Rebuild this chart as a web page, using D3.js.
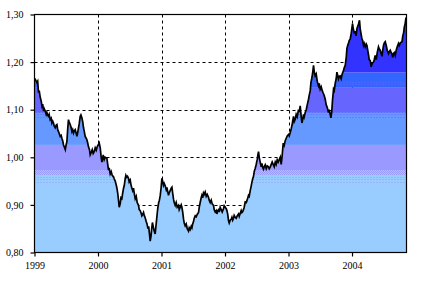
<!DOCTYPE html>
<html><head><meta charset="utf-8">
<script src="https://cdn.jsdelivr.net/npm/d3@7"></script>
<style>body{margin:0;background:#fff}svg{display:block}text{font-family:"Liberation Serif","Times New Roman",serif;font-size:10px;fill:#000}</style>
</head><body><svg id="c" width="422" height="283"></svg>
<script>
// EUR/USD daily reference rate, 1999 – Nov 2004
const dates = [
1999.000,1999.011,1999.038,1999.050,1999.063,1999.074,1999.090,1999.106,1999.117,1999.129,1999.142,1999.153,1999.169,1999.184,1999.195,1999.208,1999.220,1999.231,1999.247,1999.263,1999.274,1999.287,1999.299,1999.310,1999.326,1999.343,1999.353,1999.365,1999.378,1999.389,1999.405,1999.420,1999.431,1999.444,1999.457,1999.468,1999.485,1999.496,1999.510,1999.523,1999.535,1999.546,1999.562,1999.578,1999.589,1999.602,1999.614,1999.625,1999.641,1999.657,1999.668,1999.680,1999.693,1999.704,1999.720,1999.731,1999.746,1999.759,1999.772,1999.783,1999.798,1999.814,1999.825,1999.838,1999.850,1999.866,1999.877,1999.893,1999.909,1999.924,1999.940,1999.956,1999.972,1999.987,
2000.003,2000.019,2000.035,2000.050,2000.061,2000.074,2000.082,2000.098,2000.113,2000.140,2000.153,2000.165,2000.176,2000.192,2000.208,2000.224,2000.244,2000.255,2000.271,2000.287,2000.298,2000.310,2000.323,2000.334,2000.350,2000.362,2000.376,2000.389,2000.402,2000.413,2000.428,2000.439,2000.452,2000.465,2000.480,2000.491,2000.507,2000.523,2000.534,2000.546,2000.559,2000.570,2000.586,2000.602,2000.617,2000.638,2000.649,2000.665,2000.681,2000.691,2000.704,2000.717,2000.728,2000.743,2000.759,2000.772,2000.786,2000.798,2000.811,2000.822,2000.835,2000.846,2000.857,2000.869,2000.885,2000.900,2000.916,2000.931,2000.943,2000.956,2000.967,2000.980,2000.993,
2001.006,2001.019,2001.031,2001.043,2001.058,2001.074,2001.085,2001.098,2001.110,2001.121,2001.137,2001.153,2001.164,2001.176,2001.189,2001.200,2001.216,2001.231,2001.247,2001.268,2001.279,2001.295,2001.310,2001.321,2001.334,2001.347,2001.358,2001.373,2001.389,2001.405,2001.425,2001.436,2001.452,2001.468,2001.479,2001.491,2001.504,2001.515,2001.531,2001.546,2001.562,2001.583,2001.594,2001.609,2001.625,2001.636,2001.649,2001.661,2001.672,2001.688,2001.704,2001.720,2001.740,2001.751,2001.767,2001.783,2001.798,2001.819,2001.830,2001.846,2001.861,2001.872,2001.885,2001.898,2001.909,2001.924,2001.940,2001.956,2001.976,2001.987,
2002.003,2002.019,2002.030,2002.043,2002.055,2002.066,2002.082,2002.098,2002.109,2002.121,2002.134,2002.145,2002.161,2002.176,2002.192,2002.213,2002.224,2002.239,2002.255,2002.266,2002.279,2002.291,2002.302,2002.318,2002.334,2002.348,2002.370,2002.381,2002.397,2002.413,2002.424,2002.436,2002.449,2002.460,2002.476,2002.491,2002.507,2002.518,2002.528,2002.539,2002.554,2002.570,2002.581,2002.594,2002.606,2002.617,2002.633,2002.649,2002.665,2002.685,2002.696,2002.713,2002.728,2002.743,2002.759,2002.775,2002.791,2002.806,2002.822,2002.838,2002.854,2002.870,2002.885,2002.901,2002.917,2002.932,2002.948,2002.964,2002.980,
2003.000,2003.011,2003.027,2003.043,2003.058,2003.079,2003.090,2003.106,2003.121,2003.137,2003.157,2003.169,2003.184,2003.200,2003.211,2003.224,2003.236,2003.247,2003.263,2003.279,2003.295,2003.315,2003.326,2003.342,2003.353,2003.365,2003.378,2003.394,2003.405,2003.420,2003.436,2003.452,2003.472,2003.483,2003.499,2003.515,2003.531,2003.546,2003.562,2003.578,2003.594,2003.609,2003.630,2003.641,2003.657,2003.668,2003.680,2003.693,2003.709,2003.720,2003.735,2003.751,2003.762,2003.775,2003.787,2003.798,2003.813,2003.829,2003.845,2003.866,2003.877,2003.893,2003.909,2003.920,2003.932,2003.945,2003.956,2003.972,2003.987,
2004.008,2004.020,2004.035,2004.050,2004.063,2004.077,2004.090,2004.102,2004.118,2004.129,2004.142,2004.156,2004.169,2004.181,2004.192,2004.208,2004.224,2004.235,2004.247,2004.260,2004.271,2004.287,2004.302,2004.318,2004.339,2004.350,2004.365,2004.381,2004.397,2004.417,2004.428,2004.444,2004.460,2004.471,2004.484,2004.496,2004.507,2004.523,2004.539,2004.554,2004.575,2004.586,2004.602,2004.617,2004.628,2004.641,2004.654,2004.665,2004.680,2004.696,2004.712,2004.732,2004.743,2004.759,2004.775,2004.787,2004.800,2004.813,2004.824,2004.836,2004.847,2004.858
];
const rates = [
1.163,1.164,1.157,1.160,1.136,1.140,1.126,1.118,1.108,1.112,1.097,1.102,1.097,1.090,1.094,1.088,1.086,1.090,1.079,1.082,1.072,1.076,1.072,1.066,1.062,1.068,1.069,1.058,1.054,1.050,1.044,1.046,1.040,1.035,1.026,1.022,1.016,1.025,1.033,1.060,1.079,1.074,1.069,1.062,1.054,1.058,1.051,1.055,1.058,1.050,1.044,1.052,1.062,1.070,1.086,1.089,1.083,1.075,1.062,1.055,1.044,1.040,1.037,1.030,1.022,1.016,1.005,1.010,1.016,1.008,1.012,1.020,1.015,1.022,
1.026,1.030,1.020,1.000,0.990,0.998,1.005,0.995,1.000,0.998,0.985,0.973,0.978,0.965,0.970,0.962,0.959,0.955,0.950,0.942,0.935,0.925,0.910,0.895,0.903,0.915,0.913,0.925,0.935,0.940,0.955,0.962,0.958,0.960,0.956,0.948,0.952,0.940,0.935,0.930,0.935,0.925,0.913,0.918,0.905,0.899,0.890,0.888,0.882,0.877,0.880,0.884,0.878,0.873,0.865,0.860,0.850,0.855,0.838,0.824,0.835,0.850,0.863,0.855,0.845,0.839,0.860,0.880,0.895,0.905,0.910,0.920,0.935,
0.956,0.950,0.941,0.945,0.940,0.932,0.937,0.928,0.920,0.925,0.930,0.935,0.937,0.925,0.912,0.905,0.899,0.905,0.895,0.899,0.890,0.895,0.900,0.895,0.885,0.870,0.862,0.856,0.860,0.850,0.845,0.852,0.848,0.855,0.852,0.860,0.865,0.872,0.877,0.875,0.880,0.884,0.895,0.905,0.915,0.920,0.915,0.925,0.922,0.927,0.918,0.922,0.916,0.910,0.905,0.910,0.902,0.899,0.890,0.885,0.888,0.881,0.888,0.890,0.885,0.895,0.890,0.885,0.892,0.898,
0.895,0.892,0.888,0.880,0.867,0.862,0.868,0.870,0.874,0.868,0.872,0.878,0.874,0.872,0.877,0.881,0.876,0.882,0.888,0.884,0.886,0.890,0.895,0.906,0.905,0.910,0.920,0.918,0.930,0.940,0.948,0.955,0.960,0.970,0.977,0.985,0.995,1.005,1.012,1.000,0.990,0.980,0.987,0.978,0.975,0.980,0.984,0.976,0.982,0.980,0.976,0.980,0.985,0.990,0.985,0.980,0.990,0.985,0.995,0.990,0.995,1.000,0.985,1.005,1.030,1.025,1.035,1.040,1.045,
1.048,1.045,1.052,1.060,1.070,1.086,1.075,1.080,1.090,1.085,1.100,1.095,1.108,1.085,1.072,1.080,1.090,1.085,1.094,1.100,1.110,1.122,1.130,1.140,1.157,1.165,1.175,1.193,1.180,1.171,1.175,1.160,1.150,1.155,1.143,1.148,1.140,1.135,1.130,1.122,1.110,1.105,1.094,1.100,1.090,1.083,1.095,1.120,1.143,1.140,1.155,1.165,1.179,1.172,1.165,1.170,1.171,1.165,1.175,1.182,1.188,1.193,1.210,1.229,1.235,1.240,1.245,1.249,1.260,
1.281,1.270,1.262,1.263,1.255,1.270,1.275,1.280,1.288,1.270,1.260,1.249,1.245,1.235,1.239,1.232,1.238,1.235,1.225,1.215,1.205,1.203,1.190,1.198,1.200,1.205,1.214,1.205,1.220,1.232,1.228,1.225,1.218,1.212,1.225,1.235,1.240,1.243,1.235,1.225,1.218,1.222,1.225,1.220,1.218,1.210,1.218,1.220,1.214,1.225,1.232,1.239,1.235,1.240,1.242,1.243,1.255,1.262,1.274,1.280,1.291,1.290
];
const yearTicks = [1999, 2000, 2001, 2002, 2003, 2004];
const rateTicks = [0.80, 0.90, 1.00, 1.10, 1.20, 1.30];
// colour bands of the area fill (value limits, bottom to top)
const bandBreaks = [0.80, 0.973, 1.026, 1.093, 1.146, 1.178, 1.30];
const bandColors = ["#99ccff", "#9999ff", "#6699ff", "#6666ff", "#3366ff", "#3333ff"];

const svg = d3.select("#c");
const L = 34.5, R = 406.5, T = 14.5, B = 252.5;
const x = d3.scaleLinear().domain([1999, 2004.858]).range([L, R]);
const y = d3.scaleLinear().domain([0.80, 1.30]).range([B, T]);
const data = dates.map((d, i) => ({t: d, v: rates[i]}));

// grid
const g = svg.append("g");
g.selectAll(".hg").data(rateTicks.filter(v => v > 0.8 && v < 1.3)).join("line")
  .attr("x1", L).attr("x2", R).attr("y1", d => Math.round(y(d)) + 0.5).attr("y2", d => Math.round(y(d)) + 0.5)
  .attr("stroke", "#000").attr("stroke-dasharray", "3,3");
g.selectAll(".vg").data(yearTicks.filter(v => v > 1999)).join("line")
  .attr("y1", T).attr("y2", B).attr("x1", d => Math.round(x(d)) + 0.5).attr("x2", d => Math.round(x(d)) + 0.5)
  .attr("stroke", "#000").attr("stroke-dasharray", "3,3");

// area clip
const area = d3.area().x(d => x(d.t)).y0(y(0.80)).y1(d => y(d.v));
const defs = svg.append("defs");
defs.append("clipPath").attr("id", "ac").append("path").attr("d", area(data));
const pat = defs.append("pattern").attr("id", "dith").attr("width", 2).attr("height", 2).attr("patternUnits", "userSpaceOnUse");
pat.append("rect").attr("width", 2).attr("height", 2).attr("fill", "#99ccff");
pat.append("rect").attr("width", 1).attr("height", 1).attr("fill", "#9999ff");
pat.append("rect").attr("x", 1).attr("y", 1).attr("width", 1).attr("height", 1).attr("fill", "#9999ff");

const fill = svg.append("g").attr("clip-path", "url(#ac)");
fill.selectAll("rect.band").data(bandColors).join("rect")
  .attr("x", L).attr("width", R - L)
  .attr("y", (c, i) => y(bandBreaks[i + 1])).attr("height", (c, i) => y(bandBreaks[i]) - y(bandBreaks[i + 1]))
  .attr("fill", c => c);
// dithered transitions
fill.append("rect").attr("x", L).attr("width", R - L).attr("y", y(0.973)).attr("height", y(0.963) - y(0.973)).attr("fill", "url(#dith)");
const dotRows = [
  {v: 0.959, c: "#9999ff"}, {v: 0.954, c: "#9999ff"}, {v: 0.948, c: "#9999ff"},
  {v: 1.096, c: "#6699ff"}, {v: 1.090, c: "#6666ff"}, {v: 1.085, c: "#6666ff"},
  {v: 1.159, c: "#6666ff"}, {v: 1.154, c: "#6666ff"}
];
fill.selectAll("line.dot").data(dotRows).join("line")
  .attr("x1", L).attr("x2", R).attr("y1", d => Math.round(y(d.v)) + 0.5).attr("y2", d => Math.round(y(d.v)) + 0.5)
  .attr("stroke", d => d.c).attr("stroke-dasharray", "1,2");

// line
svg.append("path").attr("d", d3.line().x(d => x(d.t)).y(d => y(d.v))(data))
  .attr("fill", "none").attr("stroke", "#000").attr("stroke-width", 1.7).attr("stroke-linejoin", "miter");

// frame
svg.append("rect").attr("x", L).attr("y", T).attr("width", R - L).attr("height", B - T)
  .attr("fill", "none").attr("stroke", "#000").attr("stroke-width", 1.2);

// axes
const ya = svg.append("g").attr("transform", `translate(${L},0)`)
  .call(d3.axisLeft(y).tickValues(rateTicks).tickSize(4).tickSizeOuter(0).tickPadding(7)
    .tickFormat(d => d.toFixed(2).replace(".", ",")));
const xa = svg.append("g").attr("transform", `translate(0,${B})`)
  .call(d3.axisBottom(x).tickValues(yearTicks).tickSize(4).tickSizeOuter(0).tickPadding(5).tickFormat(d3.format("d")));
[ya, xa].forEach(a => { a.select(".domain").remove(); a.selectAll("text").attr("font-family", null).attr("font-size", null); a.selectAll("line").attr("stroke-width", 1.2); });
</script></body></html>
